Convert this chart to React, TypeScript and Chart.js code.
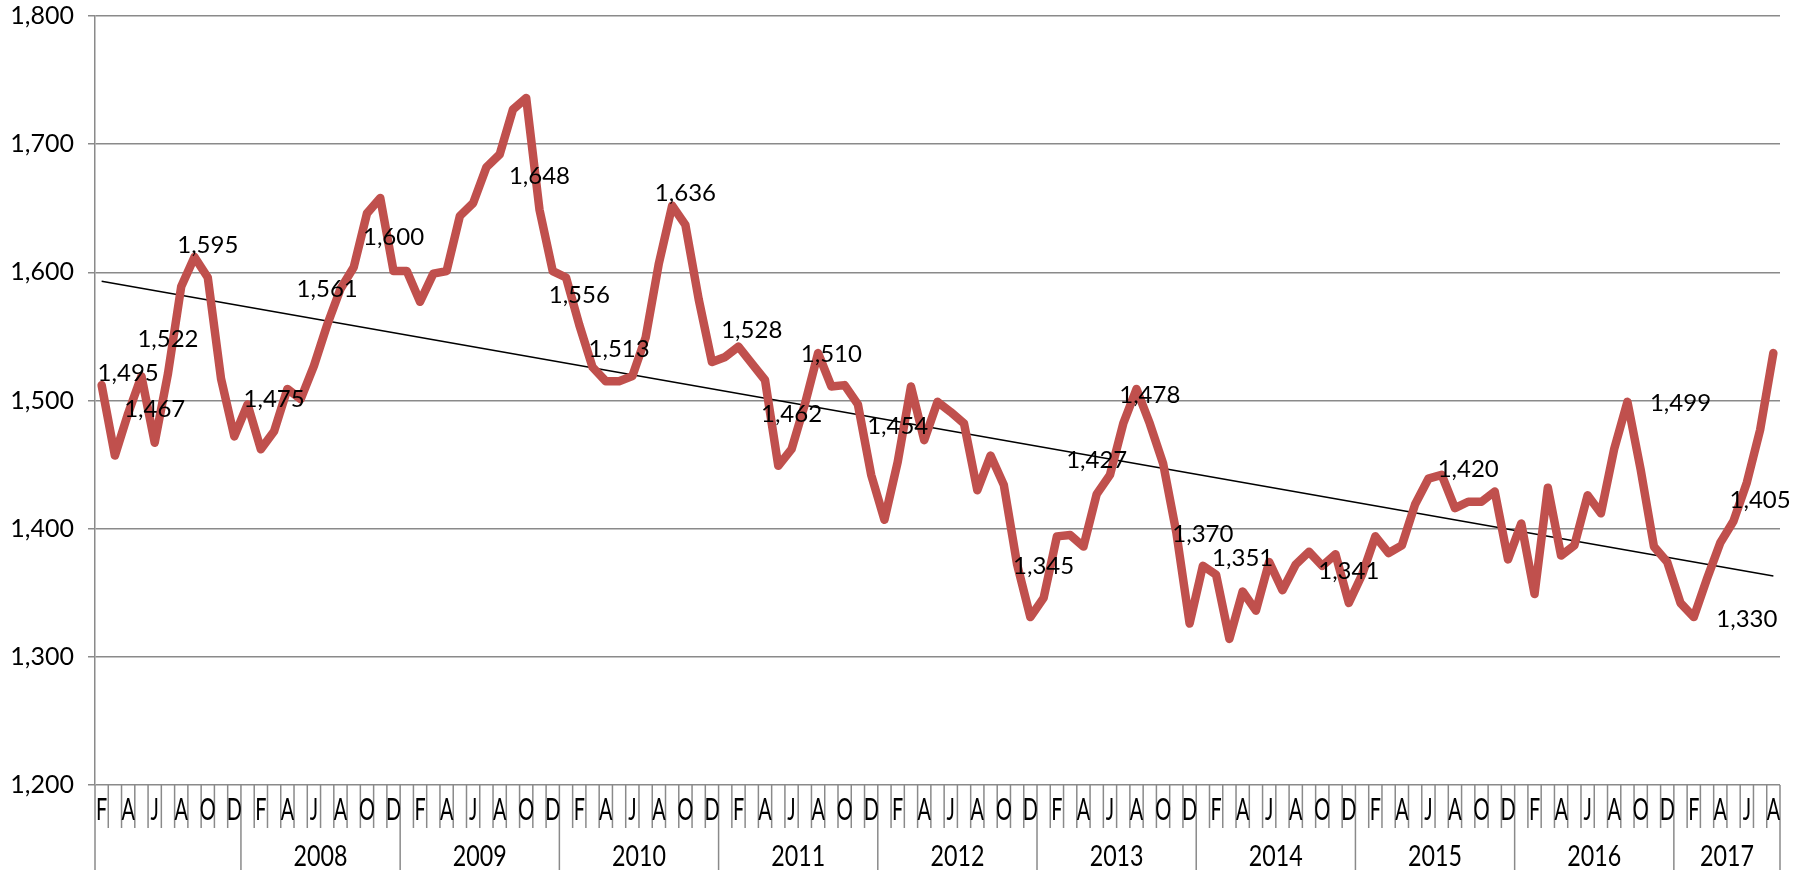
import React, { useEffect, useRef } from 'react';
import { Chart, registerables } from 'chart.js';

Chart.register(...registerables);

// ---- data ----
const years = [2007, 2008, 2009, 2010, 2011, 2012, 2013, 2014, 2015, 2016, 2017];
const yearLabels = ['', '2008', '2009', '2010', '2011', '2012', '2013', '2014', '2015', '2016', '2017'];
const firstMonthOfSeries = 1; // February 2007 (0 = January)
const monthTickLabels = ['', 'F', '', 'A', '', 'J', '', 'A', '', 'O', '', 'D'];

const values2007 = [1512, 1457, 1490, 1519, 1467, 1521, 1589, 1612, 1596, 1517, 1472];
const values2008 = [1497, 1462, 1476, 1509, 1501, 1527, 1559, 1587, 1604, 1646, 1658, 1601];
const values2009 = [1601, 1577, 1599, 1601, 1644, 1654, 1682, 1692, 1727, 1736, 1649, 1601];
const values2010 = [1596, 1559, 1526, 1515, 1515, 1519, 1549, 1607, 1652, 1637, 1579, 1530];
const values2011 = [1534, 1542, 1529, 1516, 1449, 1462, 1497, 1537, 1511, 1512, 1497, 1442];
const values2012 = [1407, 1452, 1511, 1469, 1499, 1491, 1482, 1430, 1457, 1434, 1372, 1331];
const values2013 = [1346, 1394, 1395, 1386, 1427, 1442, 1482, 1509, 1482, 1451, 1397, 1326];
const values2014 = [1371, 1364, 1314, 1351, 1336, 1374, 1352, 1372, 1382, 1371, 1380, 1342];
const values2015 = [1364, 1394, 1381, 1387, 1419, 1439, 1442, 1416, 1421, 1421, 1429, 1376];
const values2016 = [1404, 1349, 1432, 1379, 1387, 1426, 1412, 1462, 1499, 1446, 1386, 1374];
const values2017 = [1342, 1331, 1361, 1389, 1406, 1436, 1477, 1537];

const valuesByYear = [values2007, values2008, values2009, values2010, values2011, values2012,
  values2013, values2014, values2015, values2016, values2017];

// trend line end values (first and last month)
const trendEnds = [1593, 1363];

// annotation labels: text, category position, value position
const noteTexts = ['1,495', '1,467', '1,522', '1,595', '1,475', '1,561', '1,600', '1,648', '1,556', '1,513',
  '1,636', '1,528', '1,462', '1,510', '1,454', '1,345', '1,427', '1,478', '1,370', '1,351', '1,341',
  '1,420', '1,499', '1,405', '1,330'];
const noteIndex = [2, 4, 5, 8, 13, 17, 22, 33, 36, 39, 44, 49, 52, 55, 60, 71, 75, 79, 83, 86, 94, 103, 119, 125, 124];
const noteValue = [1521, 1493, 1548, 1621, 1501, 1587, 1627, 1675, 1582, 1540, 1662, 1555, 1489, 1536, 1480,
  1371, 1453, 1504, 1396, 1377, 1367, 1446, 1498, 1422, 1329];

const yTicks = [1200, 1300, 1400, 1500, 1600, 1700, 1800];

// ---- derived tables ----
const catYear: number[] = [];
const catMonth: number[] = [];
const labels: string[] = [];
const values: number[] = [];
valuesByYear.forEach((arr, yi) => {
  const start = yi === 0 ? firstMonthOfSeries : 0;
  arr.forEach((v, j) => {
    const m = start + j;
    catYear.push(yi);
    catMonth.push(m);
    labels.push(`${years[yi]}-${String(m + 1).padStart(2, '0')}`);
    values.push(v);
  });
});
const trendData: (number | null)[] = values.map(() => null);
trendData[0] = trendEnds[0];
trendData[trendData.length - 1] = trendEnds[1];

const GRID = '#8a8a8a';
const FONT = 'Lato, "Open Sans", sans-serif';

const notesPlugin = {
  id: 'notes',
  afterDatasetsDraw(chart: any) {
    const { ctx, scales } = chart;
    ctx.save();
    ctx.fillStyle = '#000';
    ctx.font = `24px ${FONT}`;
    ctx.textAlign = 'center';
    ctx.textBaseline = 'middle';
    noteTexts.forEach((t, i) => {
      const px = scales.x.getPixelForValue(noteIndex[i]);
      const py = scales.y.getPixelForValue(noteValue[i]);
      ctx.fillText(t, px, py);
    });
    ctx.restore();
  },
};

const xGroupPlugin = {
  id: 'xGroups',
  afterDraw(chart: any) {
    const { ctx, chartArea, scales } = chart;
    const x = scales.x;
    const n = labels.length;
    const cell = x.getPixelForValue(1) - x.getPixelForValue(0);
    const bottom = chartArea.bottom;
    const canvasBottom = chart.height;
    const edge = (k: number) => x.getPixelForValue(k) - cell / 2;
    ctx.save();
    ctx.strokeStyle = GRID;
    ctx.lineWidth = 1.5;
    for (let k = 0; k <= n; k++) {
      const px = edge(k);
      const yearEdge = k === 0 || k === n || catMonth[k] === 0;
      ctx.beginPath();
      ctx.moveTo(px, bottom);
      ctx.lineTo(px, yearEdge ? canvasBottom : bottom + 43);
      ctx.stroke();
    }
    ctx.fillStyle = '#000';
    ctx.textAlign = 'center';
    ctx.textBaseline = 'middle';
    ctx.font = `30px ${FONT}`;
    for (let k = 0; k < n; k++) {
      const letter = monthTickLabels[catMonth[k]];
      if (!letter) continue;
      ctx.save();
      ctx.translate(x.getPixelForValue(k), bottom + 25);
      ctx.scale(0.66, 1);
      ctx.fillText(letter, 0, 0);
      ctx.restore();
    }
    ctx.font = `28px ${FONT}`;
    years.forEach((_, yi) => {
      const idx = catYear.map((c, k) => (c === yi ? k : -1)).filter((k) => k >= 0);
      if (!idx.length || !yearLabels[yi]) return;
      const cx = (edge(idx[0]) + edge(idx[idx.length - 1] + 1)) / 2;
      ctx.save();
      ctx.translate(cx, bottom + 72);
      ctx.scale(0.83, 1);
      ctx.fillText(yearLabels[yi], 0, 0);
      ctx.restore();
    });
    ctx.restore();
  },
};

export default function App() {
  const ref = useRef<HTMLCanvasElement | null>(null);
  useEffect(() => {
    if (!ref.current) return;
    const chart = new Chart(ref.current, {
      type: 'line',
      data: {
        labels,
        datasets: [
          {
            data: values,
            borderColor: '#C0504D',
            borderWidth: 8.5,
            borderJoinStyle: 'round',
            borderCapStyle: 'round',
            pointRadius: 0,
            tension: 0,
            fill: false,
          },
          {
            data: trendData,
            borderColor: '#000',
            borderWidth: 1.5,
            pointRadius: 0,
            spanGaps: true,
            fill: false,
          },
        ],
      },
      options: {
        animation: false,
        responsive: true,
        maintainAspectRatio: false,
        layout: { padding: { left: 0, right: 36, top: 16, bottom: 0 } },
        plugins: { legend: { display: false }, tooltip: { enabled: false }, title: { display: false } },
        scales: {
          x: {
            type: 'category',
            offset: true,
            grid: { display: false },
            border: { display: false },
            ticks: { display: false },
            afterFit: (s: any) => { s.height = 85; },
          },
          y: {
            min: 1200,
            max: 1800,
            afterBuildTicks: (s: any) => { s.ticks = yTicks.map((v) => ({ value: v })); },
            afterFit: (s: any) => { s.width = 95; s.paddingTop = 0; s.paddingBottom = 0; },
            grid: { color: GRID, lineWidth: 1.5, tickLength: 7, drawTicks: true },
            border: { display: true, color: GRID, width: 1.5 },
            ticks: {
              color: '#000',
              padding: 14,
              font: { family: FONT, size: 25 },
              callback: (v: any) => Number(v).toLocaleString('en-US'),
            },
          },
        },
      },
      plugins: [notesPlugin, xGroupPlugin],
    });
    return () => chart.destroy();
  }, []);
  return (
    <div style={{ position: 'absolute', left: 0, top: 0, width: 1816, height: 870, background: '#fff' }}>
      <canvas ref={ref} />
    </div>
  );
}
